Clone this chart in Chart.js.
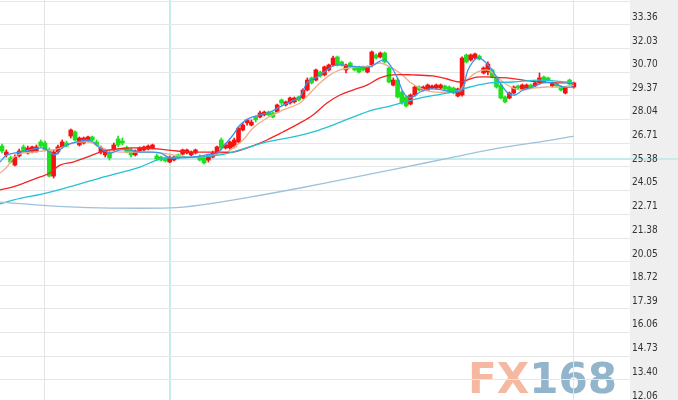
<!DOCTYPE html>
<html><head><meta charset="utf-8">
<script src="https://cdn.jsdelivr.net/npm/chart.js@4.4.1/dist/chart.umd.min.js"></script>
<style>html,body{margin:0;padding:0;background:#fff;overflow:hidden}#wrap{width:678px;height:400px}</style>
</head><body><div id="wrap"><canvas id="c" width="678" height="400"></canvas></div>
<script>
// Candle data (index 0..133)
const openVals = [26.12,25.62,25.45,25.05,25.56,26.07,25.73,25.78,25.84,26.35,26.29,25.90,24.43,25.78,26.07,26.29,26.68,26.91,26.18,26.29,26.40,26.63,26.35,25.78,25.62,25.73,25.90,26.52,26.40,26.01,25.90,25.62,25.84,25.90,25.95,26.01,25.56,25.50,25.45,25.22,25.33,25.62,25.67,25.73,25.62,25.73,25.50,25.45,25.33,25.50,25.73,26.46,26.01,26.01,26.07,26.35,27.02,27.42,27.30,27.75,27.75,27.87,28.03,27.98,28.03,28.71,28.43,28.54,28.60,28.88,28.82,29.27,29.95,29.83,30.28,30.12,30.40,30.68,31.13,30.85,30.40,30.79,30.57,30.57,30.57,30.28,30.68,31.24,31.13,31.35,30.51,29.55,29.83,29.16,28.88,28.48,28.99,29.44,29.27,29.27,29.38,29.38,29.38,29.50,29.44,29.38,28.93,28.99,31.24,30.96,31.07,31.18,30.23,30.28,30.40,29.95,29.55,28.88,28.82,29.10,29.50,29.33,29.38,29.55,29.50,29.67,30.00,29.95,29.50,29.61,29.44,29.10,29.83,29.44];
const closeVals = [25.84,25.78,25.22,25.50,25.84,25.78,26.01,26.07,26.07,26.12,25.90,24.43,25.78,26.07,26.35,26.12,27.02,26.46,26.57,26.57,26.63,26.46,26.18,26.01,25.90,25.45,26.18,26.18,26.29,25.78,25.62,25.84,26.01,26.07,26.12,26.18,25.39,25.33,25.28,25.45,25.50,25.45,25.90,25.90,25.78,25.90,25.33,25.17,25.62,25.73,26.07,26.01,26.18,26.35,26.46,27.13,27.30,27.59,27.47,27.59,27.98,28.03,27.87,27.75,28.43,28.54,28.60,28.82,28.82,28.71,29.27,29.83,29.67,30.40,30.06,30.57,30.68,31.07,30.68,30.68,30.68,30.57,30.40,30.28,30.40,30.57,31.41,31.07,31.35,30.85,29.72,29.83,28.88,28.54,28.37,28.99,29.44,29.27,29.44,29.55,29.50,29.55,29.55,29.33,29.16,29.10,29.33,31.07,30.85,31.24,31.30,31.01,30.51,30.73,30.00,29.44,28.82,28.60,29.10,29.44,29.38,29.55,29.55,29.38,29.67,29.95,29.72,29.83,29.67,29.50,29.27,29.38,29.61,29.67];
const highVals = [26.23,25.90,25.56,25.62,25.95,26.18,26.12,26.12,26.18,26.46,26.40,26.01,25.90,26.18,26.46,26.40,27.08,26.97,26.63,26.63,26.68,26.68,26.46,26.12,25.95,25.90,26.29,26.68,26.57,26.12,26.01,25.90,26.07,26.12,26.18,26.23,25.67,25.56,25.50,25.56,25.56,25.67,25.95,25.95,25.84,25.95,25.62,25.56,25.67,25.84,26.12,26.57,26.29,26.40,26.57,27.19,27.42,27.64,27.59,27.81,28.09,28.09,28.09,28.03,28.48,28.77,28.65,28.88,28.88,28.93,29.33,29.95,30.00,30.45,30.34,30.62,30.73,31.18,31.18,30.90,30.73,30.85,30.62,30.62,30.62,30.62,31.47,31.30,31.41,31.41,30.57,29.95,29.95,29.22,28.93,29.05,29.50,29.50,29.50,29.61,29.55,29.61,29.61,29.55,29.50,29.44,29.38,31.13,31.30,31.30,31.35,31.24,30.57,30.85,30.45,30.00,29.61,28.93,29.16,29.50,29.55,29.61,29.61,29.61,29.72,30.23,30.06,30.00,29.72,29.67,29.50,29.44,29.89,29.72];
const lowVals = [25.73,25.50,25.17,25.00,25.50,25.73,25.67,25.73,25.78,26.07,25.84,24.38,24.32,25.67,26.01,26.07,26.57,26.40,26.12,26.23,26.35,26.40,26.12,25.67,25.50,25.33,25.84,26.07,26.18,25.73,25.50,25.56,25.78,25.84,25.90,25.95,25.33,25.28,25.22,25.17,25.28,25.39,25.62,25.67,25.56,25.67,25.28,25.11,25.22,25.45,25.67,25.90,25.95,25.95,26.01,26.29,26.97,27.30,27.25,27.47,27.70,27.81,27.81,27.70,27.98,28.43,28.37,28.48,28.54,28.65,28.77,29.22,29.61,29.78,30.00,30.06,30.34,30.62,30.62,30.62,30.23,30.51,30.34,30.23,30.34,30.23,30.57,31.01,31.07,30.79,29.67,29.50,28.82,28.48,28.32,28.43,28.93,29.22,29.22,29.22,29.33,29.33,29.33,29.27,29.10,29.05,28.88,28.93,30.79,30.90,31.01,30.96,30.17,30.12,29.95,29.38,28.77,28.54,28.77,29.05,29.33,29.27,29.33,29.33,29.44,29.61,29.67,29.78,29.44,29.44,29.22,29.05,29.55,29.38];

// Moving-average lines (x = candle index, y = price)
const ma5X = [-0.47,1.16,4.19,7.21,9.53,11.16,12.33,13.49,15.12,17.44,19.77,21.16,22.79,25.12,27.44,29.77,32.09,34.42,36.74,39.07,41.40,44.42,47.67,50.0,51.40,53.72,55.35,57.67,60.0,62.33,64.65,66.98,69.30,70.93,73.26,75.58,76.98,78.60,80.93,83.26,85.58,87.91,89.07,90.23,91.86,93.26,94.42,95.58,97.21,99.53,102.56,104.88,106.98,108.37,110.47,111.86,113.95,115.81,117.67,119.30,121.16,123.49,125.81,128.14,130.47,133.0];
const ma5Y = [25.22,25.62,25.78,25.95,26.01,25.78,25.62,25.90,26.18,26.35,26.46,26.35,26.01,25.73,25.90,25.90,25.78,25.78,25.73,25.45,25.45,25.50,25.62,25.73,26.07,26.74,27.30,27.70,27.87,28.03,28.32,28.60,28.88,29.67,30.00,30.40,30.62,30.68,30.62,30.57,30.57,30.90,30.96,30.68,30.00,29.16,28.88,28.88,29.16,29.33,29.27,29.16,29.27,30.40,31.07,30.96,30.40,29.67,29.10,28.99,29.27,29.44,29.67,29.67,29.44,29.44];
const ma10X = [-0.47,1.16,2.56,4.88,7.21,9.53,11.86,14.19,16.51,19.77,22.09,24.42,27.44,30.47,33.72,36.74,39.77,43.02,46.05,49.07,52.33,53.72,56.05,58.37,61.63,65.35,69.30,71.63,73.95,76.28,78.60,80.93,83.26,85.58,87.91,90.23,92.56,94.88,97.21,100.23,103.49,106.51,108.14,110.47,112.79,114.19,116.51,118.84,121.16,123.49,126.74,129.77,133.0];
const ma10Y = [24.60,24.94,25.45,25.73,25.78,25.84,25.90,26.07,26.29,26.35,26.18,25.90,25.78,25.78,25.78,25.73,25.62,25.50,25.50,25.62,25.78,26.01,26.46,27.13,27.70,28.15,28.54,29.10,29.67,30.12,30.40,30.51,30.57,30.62,30.79,30.57,30.23,29.72,29.38,29.16,29.16,29.27,29.83,30.28,30.40,30.23,29.72,29.38,29.27,29.38,29.44,29.44,29.55];
const ma20X = [-0.47,2.56,5.81,8.84,11.16,13.49,16.51,19.77,22.79,25.12,29.07,32.79,36.74,40.70,44.42,47.67,50.70,53.72,57.67,61.63,65.35,69.30,72.33,75.58,78.60,81.63,84.88,87.91,90.93,95.58,100.23,103.49,106.51,108.14,110.47,113.49,117.44,121.16,125.12,129.07,133.0];
const ma20Y = [23.65,23.82,24.10,24.38,24.60,25.05,25.22,25.50,25.78,25.90,26.01,26.01,25.95,25.84,25.78,25.78,25.78,25.78,26.07,26.46,26.91,27.42,27.87,28.54,28.99,29.27,29.55,29.95,30.12,30.12,30.06,29.89,29.72,29.83,30.00,30.00,29.95,29.83,29.72,29.67,29.67];
const ma60X = [-0.47,2.56,11.16,22.79,32.09,36.74,41.40,46.05,50.70,55.35,61.63,67.67,72.33,76.98,81.63,86.28,90.23,97.21,103.49,108.84,113.49,118.84,125.12,131.40,133.0];
const ma60Y = [22.86,23.08,23.53,24.32,24.94,25.39,25.50,25.50,25.62,25.90,26.35,26.63,26.91,27.30,27.75,28.15,28.37,28.82,29.10,29.44,29.67,29.72,29.83,29.72,29.67];
const ma120X = [-0.47,11.16,22.79,39.07,46.05,57.67,69.30,80.93,92.56,104.19,115.81,125.12,133.0];
const ma120Y = [22.97,22.75,22.64,22.64,22.80,23.25,23.76,24.32,24.88,25.45,26.01,26.35,26.68];

// Axis tick labels (right price axis)
const tickLabels = ['33.36','32.03','30.70','29.37','28.04','26.71','25.38','24.05','22.71','21.38','20.05','18.72','17.39','16.06','14.73','13.40','12.06'];
const topGridLabel = 34.69;
const gridShift = 0.433;          // gridlines sit a little below each label
const verticalLines = [9.77, 133];// candle indexes of the vertical separators
const crossX = 39;                // crosshair candle index
const crossY = 25.38;             // crosshair price

const yMax = 34.333, yMin = 11.836;
const xMin = -0.465, xMax = 146.05;

const UP = '#f51212', DOWN = '#1fdf1f';
const idx = openVals.map((_, i) => i);
const colors = idx.map(i => closeVals[i] >= openVals[i] ? UP : DOWN);

const bgPlugin = {
  id: 'bgPlugin',
  beforeDraw(chart) {
    const {ctx, chartArea: a, width, height} = chart;
    ctx.save();
    ctx.fillStyle = '#ffffff';
    ctx.fillRect(0, 0, width, height);
    ctx.fillStyle = '#efefef';
    ctx.fillRect(a.right, 0, width - a.right, height);
    // watermark
    ctx.font = 'bold 42px "DejaVu Sans", sans-serif';
    ctx.textBaseline = 'alphabetic';
    const wAll = ctx.measureText('FX168').width;
    const wFX = ctx.measureText('FX').width;
    const sx = 149 / wAll;
    ctx.translate(468, 393);
    ctx.scale(sx, 1);
    ctx.fillStyle = '#f5b8a0';
    ctx.fillText('FX', 0, 0);
    ctx.fillStyle = '#93b5cb';
    ctx.fillText('168', wFX, 0);
    ctx.restore();
    // crosshair
    ctx.save();
    const cx = Math.round(chart.scales.x.getPixelForValue(crossX));
    const cy = Math.round(chart.scales.y.getPixelForValue(crossY));
    ctx.strokeStyle = '#c3ecec';
    ctx.lineWidth = 2;
    ctx.beginPath(); ctx.moveTo(cx, 0); ctx.lineTo(cx, height); ctx.stroke();
    ctx.beginPath(); ctx.moveTo(0, cy); ctx.lineTo(width, cy); ctx.stroke();
    ctx.restore();
  }
};

function lineDs(xs, ys, color, order) {
  return {
    type: 'line',
    data: xs.map((x, i) => ({x: x, y: ys[i]})),
    borderColor: color,
    borderWidth: 1.3,
    pointRadius: 0,
    tension: 0.35,
    fill: false,
    order: order
  };
}

new Chart(document.getElementById('c'), {
  data: {
    datasets: [
      lineDs(ma120X, ma120Y, '#9ec2da', 1),
      lineDs(ma60X, ma60Y, '#22c3d4', 1),
      lineDs(ma20X, ma20Y, '#f42424', 1),
      lineDs(ma10X, ma10Y, '#ebb08a', 1),
      lineDs(ma5X, ma5Y, '#3a93f0', 0),
      {
        type: 'bar',
        data: idx.map(i => ({x: i, y: [lowVals[i], highVals[i]]})),
        backgroundColor: colors,
        barThickness: 1,
        grouped: false,
        order: 3
      },
      {
        type: 'bar',
        data: idx.map(i => ({x: i, y: [openVals[i], closeVals[i]]})),
        backgroundColor: colors,
        barThickness: 4,
        minBarLength: 1.5,
        grouped: false,
        order: 2
      }
    ]
  },
  options: {
    responsive: false,
    animation: false,
    events: [],
    layout: {padding: 0},
    plugins: {legend: {display: false}, tooltip: {enabled: false}},
    scales: {
      x: {
        type: 'linear', min: xMin, max: xMax, offset: false,
        afterBuildTicks: s => { s.ticks = verticalLines.map(v => ({value: v})); },
        afterFit: s => { s.height = 0; s.paddingLeft = 0; s.paddingRight = 0; },
        ticks: {display: false},
        grid: {color: '#e3e3e3', drawTicks: false, lineWidth: 1, offset: false},
        border: {display: false}
      },
      y: {
        type: 'linear', position: 'right', min: yMin, max: yMax,
        afterBuildTicks: s => {
          s.ticks = [{value: topGridLabel - gridShift}].concat(tickLabels.map(l => ({value: parseFloat(l) - gridShift})));
        },
        afterFit: s => { s.width = 48; s.paddingTop = 0; s.paddingBottom = 0; },
        ticks: {
          autoSkip: false,
          callback: (v, i) => i === 0 ? '' : tickLabels[i - 1],
          labelOffset: -7.7,
          padding: 2,
          color: '#333333',
          font: {family: '"DejaVu Sans Condensed", "DejaVu Sans", sans-serif', size: 10}
        },
        grid: {color: '#e6e6e6', drawTicks: false, lineWidth: 1},
        border: {display: false}
      }
    }
  },
  plugins: [bgPlugin]
});
</script>
</body></html>
